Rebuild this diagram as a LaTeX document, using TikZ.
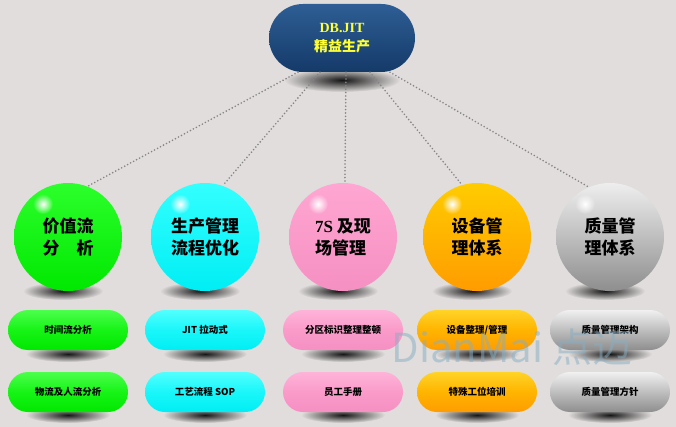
\documentclass[tikz,border=0pt]{standalone}
\usepackage{fontspec}
\setmainfont{Liberation Serif}
\newfontfamily\cjk{Noto Sans CJK SC}
\usetikzlibrary{calc,fadings,positioning}

\definecolor{bgGray}{HTML}{E0DDDC}
\definecolor{jitBlueTop}{HTML}{2E5E95}
\definecolor{jitBlueBot}{HTML}{143A68}
\definecolor{jitYellow}{HTML}{FFFF33}
\definecolor{lineGray}{HTML}{858585}
\definecolor{markBlue}{HTML}{86AEC4}
\definecolor{grnTop}{HTML}{2CFF2C}
\definecolor{grnBot}{HTML}{00E800}
\definecolor{cyaTop}{HTML}{33FFFF}
\definecolor{cyaBot}{HTML}{00EEF4}
\definecolor{pnkTop}{HTML}{FFA6D2}
\definecolor{pnkBot}{HTML}{F590C2}
\definecolor{orgTop}{HTML}{FFCC00}
\definecolor{orgBot}{HTML}{FF9C00}
\definecolor{gryTop}{HTML}{EEEEEE}
\definecolor{gryBot}{HTML}{8E8E8E}

\tikzfading[name=softShadow, inner color=transparent!10, outer color=transparent!100]
\tikzfading[name=softGlow, inner color=transparent!0, outer color=transparent!100]

\begin{document}
\begin{tikzpicture}[
    x=1pt, y=-1pt,
    dotline/.style={draw=lineGray, line width=1.8pt, line cap=round, dash pattern=on 0pt off 3.4pt},
    jitpill/.style={rectangle, rounded corners=34pt, minimum width=146pt, minimum height=68pt,
      top color=jitBlueTop, bottom color=jitBlueBot, text=jitYellow, align=center,
      font=\bfseries\fontsize{14}{19}\selectfont},
    ballnode/.style={circle, minimum size=108pt, inner sep=0pt, align=left,
      font=\cjk\bfseries\fontsize{17}{22}\selectfont},
    taskpill/.style={rectangle, rounded corners=20pt, minimum width=120pt, minimum height=40pt,
      inner sep=0pt, font=\cjk\bfseries\fontsize{9.5}{12}\selectfont},
    shadowblob/.style={fill=black, path fading=softShadow}
  ]
  \fill[bgGray] (0,0) rectangle (676,427);
  \useasboundingbox (0,0) rectangle (676,427);

  % shadows first
  \fill[shadowblob] (342,80) ellipse (58 and 12);
  \foreach \x in {68,205,343,477,610}{
    \fill[shadowblob] (\x-5,291) ellipse (40 and 9);
    \fill[shadowblob] (\x,354) ellipse (42 and 8);
    \fill[shadowblob] (\x,415) ellipse (42 and 8);
  }

  % top
  \node[jitpill] (jit) at (342,38) {DB.JIT\\{\cjk 精益生产}};
  \foreach \dx [count=\i] in {-44,-22,4,28,48}
    \coordinate (start\i) at ($(jit.south)+(\dx,0)$);

  \foreach \x/\top/\bot/\txt/\taskA/\taskB [count=\i] in {
      68/grnTop/grnBot/{价值流\\分\quad 析}/{\cjk 时间流分析}/{\cjk 物流及人流分析},
      205/cyaTop/cyaBot/{生产管理\\流程优化}/{JIT {\cjk 拉动式}}/{{\cjk 工艺流程} SOP},
      343/pnkTop/pnkBot/{{\rmfamily 7S} 及现\\场管理}/{\cjk 分区标识整理整顿}/{\cjk 员工手册},
      477/orgTop/orgBot/{设备管\\理体系}/{\cjk 设备整理/管理}/{\cjk 特殊工位培训},
      610/gryTop/gryBot/{质量管\\理体系}/{\cjk 质量管理架构}/{\cjk 质量管理方针}}{
    \node[ballnode, top color=\top, bottom color=\bot] (ball\i) at (\x,237) {\txt};
    \fill[white, path fading=softGlow] ($(ball\i)+(-25,-33)$) circle (10);
    \node[taskpill, top color=\top!85!white, bottom color=\bot, middle color=\top!50!\bot] (taskA\i) at (\x,330) {\taskA};
    \node[taskpill, top color=\top!85!white, bottom color=\bot, middle color=\top!50!\bot] (taskB\i) at (\x,392) {\taskB};
  }

  \draw[dotline] (start1) -- (ball1.69);
  \draw[dotline] (start2) -- (ball2.71);
  \draw[dotline] (start3) -- (ball3.88);
  \draw[dotline] (start4) -- (ball4.106);
  \draw[dotline] (start5) -- (ball5.113);

  % watermark
  \node[text=markBlue, opacity=0.5, font=\cjk\fontsize{40}{40}\selectfont] (mark) at (512,347) {DianMai 点迈};
\end{tikzpicture}
\end{document}
